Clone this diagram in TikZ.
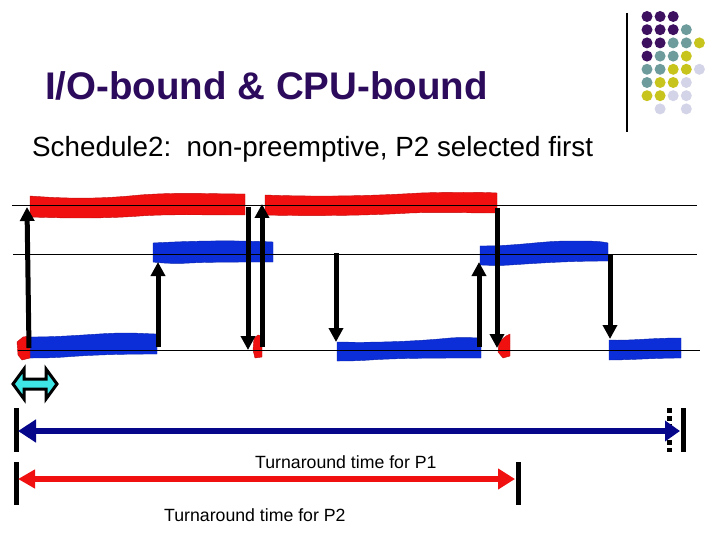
\documentclass[tikz,border=0pt]{standalone}
\usepackage{fontspec}
\setmainfont{Liberation Sans}
\usetikzlibrary{arrows.meta}
\definecolor{titlec}{HTML}{2D0B5C}
\definecolor{barred}{HTML}{F01010}
\definecolor{barblue}{HTML}{0C2ED8}
\definecolor{navyc}{HTML}{06068A}
\definecolor{cyanc}{HTML}{3FE6E6}
\definecolor{dotP}{HTML}{3E1160}
\definecolor{dotT}{HTML}{6E9C9C}
\definecolor{dotY}{HTML}{C8C41E}
\definecolor{dotL}{HTML}{D4D4E8}
\tikzset{
  redbar/.style={fill=barred, draw=barred!80!black, line width=0.4pt},
  bluebar/.style={fill=barblue, draw=barblue!80!black, line width=0.4pt},
  level/.style={draw=black, line width=0.9pt},
  evarrow/.style={draw=black, line width=5pt, -{Triangle[width=14pt,length=14pt]}},
  tick/.style={draw=black, line width=5pt},
  dot/.style={circle, inner sep=0pt, minimum size=11pt}
}
\begin{document}
\begin{tikzpicture}[x=1pt,y=-1pt]
\useasboundingbox (0,0) rectangle (720,540);
\fill[white] (0,0) rectangle (720,540);

% logo
\draw[line width=1.3pt] (627,13) -- (627,132);
\foreach \c/\r/\col in {0/0/dotP,1/0/dotP,2/0/dotP,
  0/1/dotP,1/1/dotP,2/1/dotP,3/1/dotT,
  0/2/dotP,1/2/dotP,2/2/dotT,3/2/dotT,4/2/dotY,
  0/3/dotP,1/3/dotT,2/3/dotT,3/3/dotY,
  0/4/dotT,1/4/dotT,2/4/dotY,3/4/dotY,4/4/dotL,
  0/5/dotT,1/5/dotY,2/5/dotY,3/5/dotL,
  0/6/dotY,1/6/dotY,2/6/dotL,3/6/dotL,
  1/7/dotL,3/7/dotL}
  \node[dot, fill=\col] at ({647+13.1*\c},{16.5+13.2*\r}) {};

% texts
\node[anchor=base west, inner sep=0pt, text=titlec, font=\fontsize{38.5}{40}\selectfont\bfseries] (title) at (45,100) {I/O-bound \& CPU-bound};
\node[anchor=base west, inner sep=0pt, font=\fontsize{27.8}{30}\selectfont] (sub) at (32,157) {Schedule2:\ \ non-preemptive, P2 selected first};

% bars
\path[redbar] (30,196) .. controls (70,199) and (100,199) .. (140,195) .. controls (180,192) and (210,194) .. (245,194) -- (245,215) .. controls (200,215) and (170,214) .. (140,216) .. controls (100,219) and (60,218) .. (30,217) -- cycle;
\path[redbar] (265,195) .. controls (320,197) and (370,196) .. (420,193) .. controls (450,192) and (480,192) .. (497,193) -- (497,213) .. controls (470,213) and (440,212) .. (410,213) .. controls (360,216) and (300,216) .. (265,215) -- cycle;
\path[bluebar] (153,243) .. controls (190,241) and (230,240) .. (273,242) -- (273,262) .. controls (240,262) and (210,262) .. (190,263) .. controls (175,264) and (160,263) .. (153,262) -- cycle;
\path[bluebar] (480,246) .. controls (520,246) and (540,241) .. (570,241) .. controls (590,241) and (600,241) .. (608,243) -- (608,261) .. controls (570,261) and (540,263) .. (510,265) .. controls (495,266) and (485,265) .. (480,265) -- cycle;
\path[bluebar] (30,337) .. controls (70,337) and (100,333) .. (125,333) .. controls (140,333) and (150,334) .. (157,334) -- (157,354) .. controls (120,354) and (90,355) .. (65,357) .. controls (50,358) and (40,358) .. (30,358) -- cycle;
\path[bluebar] (337,342) .. controls (380,343) and (420,341) .. (450,338) .. controls (465,337) and (475,338) .. (481,338) -- (481,358) .. controls (440,358) and (400,358) .. (370,360) .. controls (355,361) and (345,361) .. (337,361) -- cycle;
\path[bluebar] (609,340) .. controls (630,341) and (650,338) .. (681,338) -- (681,358) .. controls (655,358) and (630,360) .. (609,360) -- cycle;
\path[redbar] (17,342) -- (23,337) -- (30,336) -- (30,358) -- (22,360) -- (18,355) -- cycle;
\path[redbar] (254,338) -- (258,335) -- (262,336) -- (262,357) -- (255,358) -- (253,350) -- cycle;
\path[redbar] (499,342) -- (506,336) -- (510,334) -- (510,356) -- (503,358) -- (498,352) -- cycle;

% levels
\draw[level] (12,205) -- (697,205);
\draw[level] (13,254) -- (697,254);
\draw[level] (18,350) -- (700,350);

% event arrows
\draw[evarrow] (29,348) -- (27,207);
\draw[evarrow] (158,347) -- (158,262);
\draw[evarrow] (248,207) -- (248,350);
\draw[evarrow] (262,347) -- (262,204);
\draw[evarrow] (336,253) -- (336,342);
\draw[evarrow] (479,347) -- (479,262);
\draw[evarrow] (497,208) -- (497,348);
\draw[evarrow] (610,255) -- (610,339);

% cyan double arrow
\draw[fill=cyanc, line width=3pt, line join=miter] (13,384) -- (24,369) -- (24,379) -- (46,379) -- (46,369) -- (57,384) -- (46,399) -- (46,389) -- (24,389) -- (24,399) -- cycle;

% turnaround bars
\draw[tick] (16,408) -- (16,452);
\draw[tick] (16,462) -- (16,505);
\draw[tick] (683,408) -- (683,452);
\draw[line width=5pt, dash pattern=on 5pt off 3pt] (669,408) -- (669,452);
\draw[tick] (518,462) -- (518,505);
\draw[navyc, line width=6pt, {Triangle[width=22pt,length=18pt]}-{Triangle[width=20pt,length=15pt]}] (18,431) -- (680,431);
\draw[barred, line width=6pt, {Triangle[width=18pt,length=17pt]}-{Triangle[width=20pt,length=17pt]}] (18,479) -- (515,479);

\node[anchor=base west, inner sep=0pt, font=\fontsize{17.7}{19}\selectfont] (t1) at (255,468) {Turnaround time for P1};
\node[anchor=base west, inner sep=0pt, font=\fontsize{17.7}{19}\selectfont] (t2) at (164,521) {Turnaround time for P2};
\end{tikzpicture}
\end{document}
